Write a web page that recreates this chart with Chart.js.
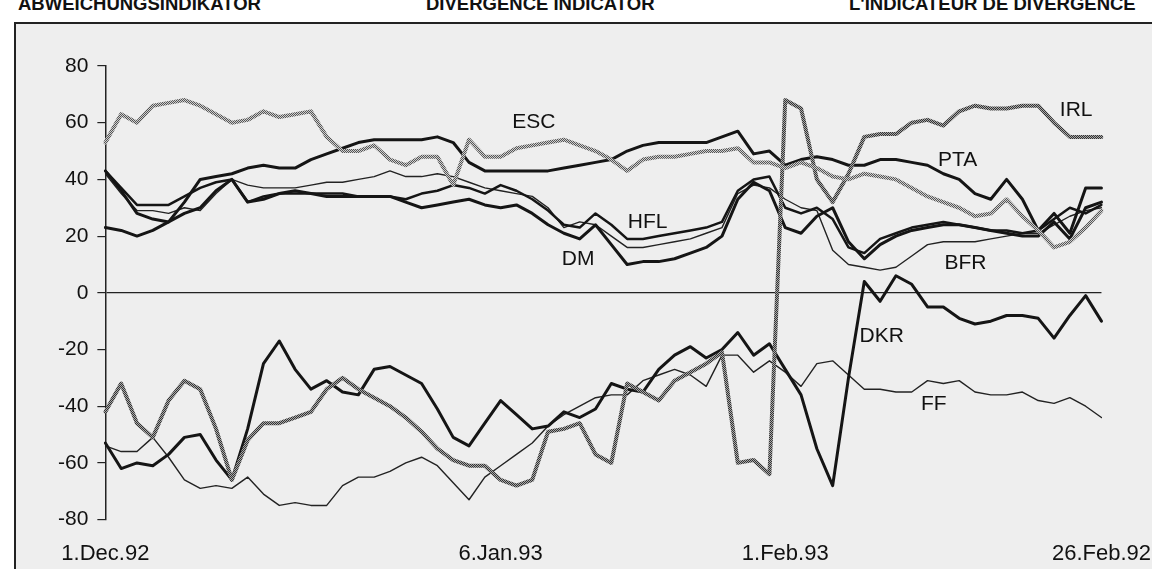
<!DOCTYPE html>
<html>
<head>
<meta charset="utf-8">
<script src="https://cdn.jsdelivr.net/npm/chart.js@4"></script>
<style>
  html, body { margin: 0; padding: 0; background: #fff; overflow: hidden; }
  #wrap { position: relative; width: 1152px; height: 569px; overflow: hidden; }
  .head { position: absolute; top: -5px; font: bold 18.5px 'Liberation Sans', Arial, sans-serif; line-height: 18px; color: #111; white-space: nowrap; }
  #frame { position: absolute; left: 14px; top: 22px; width: 1150px; height: 560px; border-left: 2px solid #222; border-top: 2px solid #222; background: #eeeeee; }
  #myChart { position: absolute; left: 0; top: 0; }
</style>
</head>
<body>
<div id="wrap">
  <div class="head" style="left:18px">ABWEICHUNGSINDIKATOR</div>
  <div class="head" style="left:426px">DIVERGENCE INDICATOR</div>
  <div class="head" style="left:849px">L'INDICATEUR DE DIVERGENCE</div>
  <div id="frame"></div>
  <canvas id="myChart" width="1152" height="569"></canvas>
</div>
<script>
// trading days shown on the x axis, only four of them get a label
const tickDays = [0, 25, 43, 63];
const tickText = ['1.Dec.92', '6.Jan.93', '1.Feb.93', '26.Feb.92'];

// divergence indicator per currency
const esc = [53,63,60,66,67,68,66,63,60,61,64,62,63,64,55,50,50,52,47,45,48,48,38,54,48,48,51,52,53,54,52,50,47,43,47,48,48,49,50,50,51,46,46,44,46,44,41,40,42,41,40,37,34,32,30,27,28,33,27,22,16,18,23,29];
const irl = [-42,-32,-46,-51,-38,-31,-34,-48,-66,-52,-46,-46,-44,-42,-34,-30,-34,-37,-40,-44,-49,-55,-59,-61,-61,-66,-68,-66,-49,-48,-46,-57,-60,-32,-35,-38,-31,-28,-25,-21,-60,-59,-64,68,65,40,32,42,55,56,56,60,61,59,64,66,65,65,66,66,60,55,55,55];
const pta = [23,22,20,22,25,32,40,41,42,44,45,44,44,47,49,51,53,54,54,54,54,55,53,46,43,43,43,43,43,44,45,46,47,50,52,53,53,53,53,55,57,49,50,45,47,48,47,45,45,47,47,46,45,42,40,35,33,40,33,22,28,21,37,37];
const dm  = [43,36,28,26,25,28,30,36,40,32,33,35,36,35,34,34,34,34,34,32,30,31,32,33,31,30,31,28,24,21,19,24,17,10,11,11,12,14,16,20,33,39,36,23,21,27,30,18,12,17,20,22,23,24,24,23,22,21,20,20,25,19,30,32];
const hfl = [43,37,31,31,31,34,37,39,40,32,34,35,35,35,35,35,34,34,34,33,35,36,38,37,35,38,36,33,29,24,23,28,24,19,19,20,21,22,23,25,36,40,41,30,28,30,26,16,14,19,21,23,24,25,24,23,22,22,21,22,26,30,28,31];
const bfr = [42,35,29,29,28,30,29,35,40,38,37,37,37,38,39,39,40,41,43,41,41,42,41,39,37,36,35,34,30,23,25,24,20,16,16,17,18,19,21,23,35,38,37,33,30,29,15,10,9,8,9,13,17,18,18,18,19,20,21,21,24,27,29,30];
const dkr = [-53,-62,-60,-61,-57,-51,-50,-59,-66,-48,-25,-17,-27,-34,-31,-35,-36,-27,-26,-29,-32,-41,-51,-54,-46,-38,-43,-48,-47,-42,-44,-41,-32,-34,-35,-27,-22,-19,-23,-20,-14,-22,-18,-27,-36,-55,-68,-30,4,-3,6,3,-5,-5,-9,-11,-10,-8,-8,-9,-16,-8,-1,-10];
const ff  = [-54,-56,-56,-51,-58,-66,-69,-68,-69,-65,-71,-75,-74,-75,-75,-68,-65,-65,-63,-60,-58,-61,-67,-73,-65,-61,-57,-53,-47,-43,-40,-37,-36,-36,-31,-29,-27,-29,-33,-22,-22,-28,-24,-28,-33,-25,-24,-29,-34,-34,-35,-35,-31,-32,-31,-35,-36,-36,-35,-38,-39,-37,-40,-44];

// where the currency names sit (day index, indicator value)
const nameLabels = [
  { text: 'ESC', day: 27.1, value: 60 },
  { text: 'IRL', day: 61.4, value: 64.5 },
  { text: 'PTA', day: 53.9, value: 46.8 },
  { text: 'HFL', day: 34.3, value: 24.8 },
  { text: 'DM',  day: 29.9, value: 12 },
  { text: 'BFR', day: 54.4, value: 10.6 },
  { text: 'DKR', day: 49.1, value: -15.2 },
  { text: 'FF',  day: 52.4, value: -39.4 }
];

const FONT = "'Liberation Sans', Arial, sans-serif";

// the scan shows some lines as a grey dotted hatch
function hatch(dark, light) {
  const c = document.createElement('canvas');
  c.width = 2; c.height = 2;
  const g = c.getContext('2d');
  g.fillStyle = light; g.fillRect(0, 0, 2, 2);
  g.fillStyle = dark; g.fillRect(0, 0, 1, 1); g.fillRect(1, 1, 1, 1);
  return g.createPattern(c, 'repeat');
}

const nameLabelPlugin = {
  id: 'nameLabels',
  afterDatasetsDraw(chart) {
    const { ctx, scales } = chart;
    ctx.save();
    ctx.font = '21px ' + FONT;
    ctx.fillStyle = '#111';
    ctx.textAlign = 'center';
    ctx.textBaseline = 'middle';
    nameLabels.forEach(l => {
      ctx.fillText(l.text, scales.x.getPixelForValue(l.day), scales.y.getPixelForValue(l.value));
    });
    ctx.restore();
  }
};

const ctx = document.getElementById('myChart').getContext('2d');
const myChart = new Chart(ctx, {
  type: 'line',
  data: {
    labels: esc.map((_, i) => i),
    datasets: [
      { label: 'ESC', data: esc, borderColor: hatch('#555', '#cfcfcf'), borderWidth: 4 },
      { label: 'IRL', data: irl, borderColor: hatch('#333', '#a8a8a8'), borderWidth: 4 },
      { label: 'PTA', data: pta, borderColor: '#151515', borderWidth: 3 },
      { label: 'DM',  data: dm,  borderColor: '#151515', borderWidth: 3 },
      { label: 'HFL', data: hfl, borderColor: '#151515', borderWidth: 2.5 },
      { label: 'BFR', data: bfr, borderColor: '#222', borderWidth: 1.4 },
      { label: 'DKR', data: dkr, borderColor: '#151515', borderWidth: 3 },
      { label: 'FF',  data: ff,  borderColor: '#222', borderWidth: 1.4 }
    ]
  },
  options: {
    responsive: false,
    animation: false,
    layout: { padding: { left: 49, right: 47, top: 66, bottom: 1 } },
    elements: {
      point: { radius: 0 },
      line: { tension: 0, borderJoinStyle: 'round', borderCapStyle: 'round' }
    },
    plugins: {
      legend: { display: false },
      tooltip: { enabled: false }
    },
    scales: {
      x: {
        grid: { display: true, drawOnChartArea: false, drawTicks: true, tickLength: 20, tickColor: 'rgba(0,0,0,0)', color: 'rgba(0,0,0,0)' },
        border: { display: false },
        ticks: {
          autoSkip: false,
          maxRotation: 0,
          padding: 1,
          color: '#111',
          font: { family: FONT, size: 22 },
          callback: (val, i) => {
            const k = tickDays.indexOf(i);
            return k >= 0 ? tickText[k] : '';
          }
        }
      },
      y: {
        min: -80,
        max: 80,
        ticks: {
          stepSize: 20,
          padding: 9,
          color: '#111',
          font: { family: FONT, size: 21 }
        },
        grid: {
          color: c => (c.tick && c.tick.value === 0 ? '#222' : 'rgba(0,0,0,0)'),
          tickColor: '#222',
          tickLength: 8,
          lineWidth: 1.2
        },
        border: { color: '#222', width: 1.5 }
      }
    }
  },
  plugins: [nameLabelPlugin]
});
</script>
</body>
</html>
